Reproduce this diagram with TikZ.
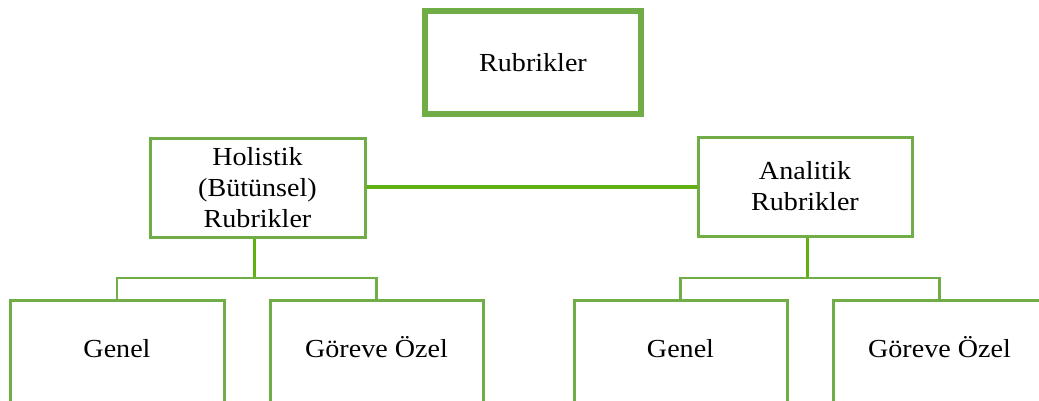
\documentclass[tikz,border=0pt]{standalone}
\usepackage{fontspec}
\setmainfont{Liberation Serif}[FakeStretch=1.08]
\definecolor{boxg}{HTML}{70AD47}
\definecolor{lineg}{HTML}{5FB010}
\begin{document}
\begin{tikzpicture}[x=1pt,y=-1pt,
  box/.style={draw=boxg,line width=3pt,rectangle,align=center,inner sep=0pt,
    font=\fontsize{26}{31}\selectfont},
  leaf/.style={box,minimum width=213pt,minimum height=102pt,text height=19pt,text depth=6pt},
  conn/.style={draw=lineg,line width=3pt}]
\useasboundingbox (0,0) rectangle (1039,400);
\node[box,line width=6.5pt,minimum width=216pt,minimum height=103pt] (top) at (533,62.5) {Rubrikler};
\node[box,minimum width=215pt,minimum height=99pt] (hol) at (257.5,187.5) {Holistik\\(Bütünsel)\\Rubrikler};
\node[box,minimum width=214pt,minimum height=99pt] (ana) at (805,186.5) {Analitik\\Rubrikler};
\node[leaf,minimum width=214pt] (g1) at (117,351) {Genel};
\node[leaf] (o1) at (376.5,351) {Göreve Özel};
\node[leaf] (g2) at (680.5,351) {Genel};
\node[leaf] (o2) at (939.5,351) {Göreve Özel};
\coordinate (hj) at (532,187);
\coordinate (lj) at (254,278);
\coordinate (rj) at (807,278);
\draw[conn,draw=boxg] (hj -| top.south) -- (hj);
\draw[conn,line width=3.5pt] (hol.east |- hj) -- (ana.west |- hj);
\draw[conn] (lj |- hol.south) -- (lj);
\draw[conn,draw=boxg,line width=2.8pt] (g1.north) -- (g1.north |- lj) -- (o1.north |- lj) -- (o1.north);
\draw[conn] (rj |- ana.south) -- (rj);
\draw[conn,draw=boxg,line width=2.8pt] (g2.north) -- (g2.north |- rj) -- (o2.north |- rj) -- (o2.north);
\end{tikzpicture}
\end{document}
